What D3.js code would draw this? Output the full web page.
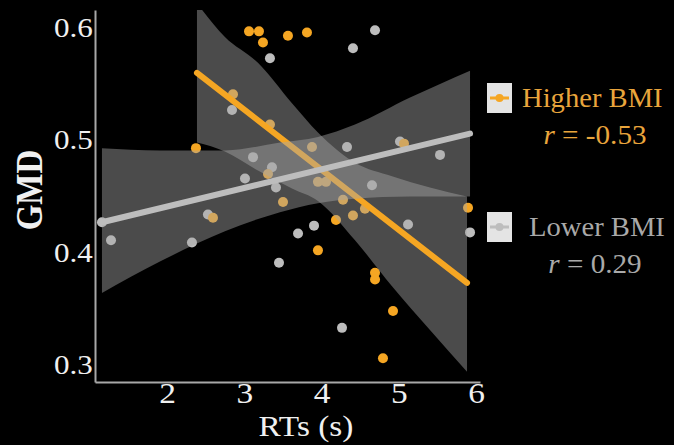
<!DOCTYPE html>
<html>
<head>
<meta charset="utf-8">
<script src="https://cdn.jsdelivr.net/npm/d3@7"></script>
<style>
  html, body { margin: 0; padding: 0; background: #000; }
  svg { display: block; }
</style>
</head>
<body>
<svg id="chart" width="674" height="445"></svg>
<script>
// ---------------- data ----------------
const xTicks = [2, 3, 4, 5, 6];
const yTicks = [0.3, 0.4, 0.5, 0.6];

// Higher BMI points: [RT (s), GMD]
const higherX = [2.375, 3.061, 3.190, 3.242, 3.565, 3.811, 2.854, 3.332, 3.876, 3.307, 3.953, 4.057, 4.277, 3.501, 5.066, 5.894, 2.595, 4.186, 4.406, 4.561, 3.953, 4.691, 4.691, 4.924, 4.794];
const higherY = [0.493, 0.597, 0.597, 0.587, 0.593, 0.596, 0.541, 0.514, 0.494, 0.470, 0.463, 0.463, 0.447, 0.445, 0.497, 0.440, 0.431, 0.429, 0.433, 0.439, 0.402, 0.382, 0.376, 0.348, 0.306];

// Lower BMI points
const lowerX = [1.159, 3.332, 4.406, 4.691, 2.841, 4.329, 3.113, 3.358, 3.009, 3.410, 4.652, 5.014, 5.532, 1.276, 2.323, 2.530, 3.902, 3.695, 3.449, 4.264, 5.118, 5.920];
const lowerY = [0.427, 0.573, 0.582, 0.598, 0.527, 0.494, 0.485, 0.476, 0.466, 0.458, 0.460, 0.499, 0.487, 0.411, 0.409, 0.434, 0.424, 0.417, 0.391, 0.333, 0.425, 0.418];

// fitted lines (end points) and confidence bands
const higherFitX = [2.388, 5.881];
const higherFitY = [0.560, 0.373];
const higherBandX  = [2.388, 2.750, 3.177, 3.617, 3.953, 4.432, 4.911, 5.402, 5.881];
const higherBandHi = [0.622, 0.592, 0.569, 0.533, 0.507, 0.480, 0.468, 0.458, 0.450];
const higherBandLo = [0.498, 0.490, 0.473, 0.457, 0.446, 0.411, 0.370, 0.331, 0.294];

const lowerFitX = [1.159, 5.920];
const lowerFitY = [0.427, 0.506];
const lowerBandX  = [1.159, 1.909, 2.750, 3.462, 3.953, 4.432, 5.144, 5.920];
const lowerBandHi = [0.493, 0.491, 0.491, 0.498, 0.503, 0.514, 0.538, 0.562];
const lowerBandLo = [0.364, 0.392, 0.419, 0.436, 0.444, 0.448, 0.450, 0.450];

const groups = ["Higher BMI", "Lower BMI"];
const rLabels = ["-0.53", "0.29"];

// ---------------- drawing ----------------
const ORANGE = "#f5a623";
const GRAY = "#bdbdbd";
const SX = 1.15; // horizontal text stretch of the picture

const svg = d3.select("#chart");
svg.append("rect").attr("width", 674).attr("height", 445).attr("fill", "#000");

const x = d3.scaleLinear().domain([1.069, 6.049]).range([95, 480]);
const y = d3.scaleLinear().domain([0.2848, 0.616]).range([382, 10]);

svg.append("clipPath").attr("id", "clip")
  .append("rect").attr("x", 95).attr("y", 10).attr("width", 386).attr("height", 372);

const plot = svg.append("g").attr("clip-path", "url(#clip)");

// points
const pts = [];
lowerX.forEach((v, i) => pts.push({x: v, y: lowerY[i], c: GRAY}));
higherX.forEach((v, i) => pts.push({x: v, y: higherY[i], c: ORANGE}));
plot.selectAll("circle.pt").data(pts).enter().append("circle")
  .attr("class", "pt")
  .attr("cx", d => x(d.x)).attr("cy", d => y(d.y)).attr("r", 5)
  .attr("fill", d => d.c);

function smooth(bx, lo, hi, fx, fy, col) {
  const band = bx.map((v, i) => ({x: v, lo: lo[i], hi: hi[i]}));
  const area = d3.area().curve(d3.curveMonotoneX)
    .x(d => x(d.x)).y0(d => y(d.lo)).y1(d => y(d.hi));
  plot.append("path").datum(band).attr("d", area)
    .attr("fill", "#a6a6a6").attr("fill-opacity", 0.45);
  const line = d3.line().x(d => x(d[0])).y(d => y(d[1]));
  plot.append("path").datum(fx.map((v, i) => [v, fy[i]])).attr("d", line)
    .attr("stroke", col).attr("stroke-width", 6).attr("stroke-linecap", "round")
    .attr("fill", "none");
}
smooth(higherBandX, higherBandLo, higherBandHi, higherFitX, higherFitY, ORANGE);
smooth(lowerBandX, lowerBandLo, lowerBandHi, lowerFitX, lowerFitY, GRAY);

// axes
const font = "'Liberation Serif', 'DejaVu Serif', serif";
const gy = svg.append("g").attr("transform", "translate(95,0)")
  .call(d3.axisLeft(y).tickValues(yTicks).tickFormat(d3.format(".1f")).tickSize(0).tickSizeOuter(0));
gy.select(".domain").attr("stroke", "#a8a8a8").attr("stroke-width", 2);
gy.selectAll("text").attr("x", -2).attr("fill", "#f0f0f0")
  .style("font-family", font).style("font-size", "27px")
  .attr("transform", `scale(${SX},1)`);

const gx = svg.append("g").attr("transform", "translate(0,382)")
  .call(d3.axisBottom(x).tickValues(xTicks).tickFormat(d3.format("d")).tickSize(0).tickSizeOuter(0));
gx.select(".domain").attr("stroke", "#a8a8a8").attr("stroke-width", 2);
gx.selectAll("text").attr("y", 21).attr("dy", null).attr("x", 0).attr("fill", "#f0f0f0")
  .style("font-family", font).style("font-size", "29px")
  .attr("transform", `scale(${SX},1)`);

// axis titles
svg.append("text").attr("transform", `translate(306,436) scale(${SX},1)`)
  .attr("text-anchor", "middle").attr("fill", "#f0f0f0")
  .style("font-family", font).style("font-size", "29px").text("RTs (s)");
svg.append("text").attr("transform", `translate(42,190) scale(${SX},1) rotate(-90)`)
  .attr("text-anchor", "middle").attr("fill", "#f0f0f0")
  .style("font-family", font).style("font-size", "33px").style("font-weight", "bold").text("GMD");

// legend
const legCols = [ORANGE, GRAY];
const legTxt = ["#e9a53c", "#a9a9a9"];
const legY = [83, 212];
groups.forEach((g, i) => {
  const ly = legY[i];
  svg.append("rect").attr("x", 487).attr("y", ly).attr("width", 25).attr("height", 30)
    .attr("fill", "#e4e4e4");
  svg.append("line").attr("x1", 490).attr("x2", 509).attr("y1", ly + 15).attr("y2", ly + 15)
    .attr("stroke", legCols[i]).attr("stroke-width", 3);
  svg.append("circle").attr("cx", 499.5).attr("cy", ly + 15).attr("r", 4).attr("fill", legCols[i]);
  svg.append("text").attr("transform", `translate(${i === 0 ? 522 : 529},${ly + 24}) scale(1.06,1)`)
    .attr("fill", legTxt[i]).style("font-family", font).style("font-size", "27px").text(g);
  const t = svg.append("text").attr("transform", `translate(595,${ly + 61}) scale(1.08,1)`)
    .attr("text-anchor", "middle").attr("fill", legTxt[i])
    .style("font-family", font).style("font-size", "27px");
  t.append("tspan").style("font-style", "italic").text("r");
  t.append("tspan").text(" = " + rLabels[i]);
});
</script>
</body>
</html>
